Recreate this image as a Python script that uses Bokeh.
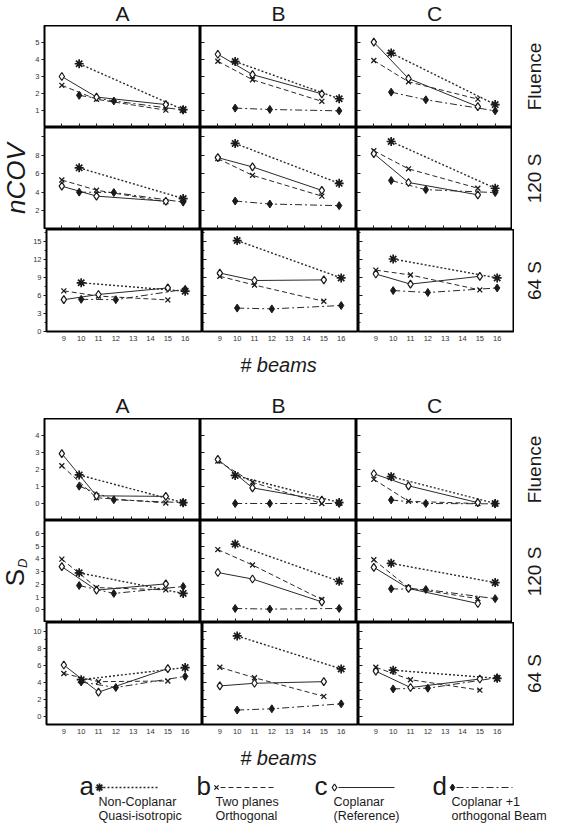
import math
from bokeh.plotting import figure
from bokeh.layouts import column, row
from bokeh.models import Range1d, FixedTicker, LinearAxis
from bokeh.embed import file_html
from bokeh.resources import INLINE
from bokeh.core.properties import value

# ---------------- data ----------------
BEAM_TICKS = [9, 10, 11, 12, 13, 14, 15, 16]
X_A = [10, 16]        # a: Non-Coplanar Quasi-isotropic
X_B = [9, 11, 15]     # b: Two planes Orthogonal
X_C = [9, 11, 15]     # c: Coplanar (Reference)
X_D = [10, 12, 16]    # d: Coplanar +1 orthogonal Beam

COLUMNS = ["A", "B", "C"]
ROWS = ["Fluence", "120 S", "64 S"]

# nCOV
NCOV_FLUENCE_A = {"a": [3.75, 1.05], "b": [2.48, 1.66, 1.02], "c": [3.00, 1.79, 1.35], "d": [1.89, 1.56, 1.03]}
NCOV_FLUENCE_B = {"a": [3.88, 1.69], "b": [3.90, 2.81, 1.54], "c": [4.31, 3.11, 1.98], "d": [1.14, 1.06, 0.98]}
NCOV_FLUENCE_C = {"a": [4.38, 1.35], "b": [3.94, 2.69, 1.67], "c": [5.02, 2.88, 1.23], "d": [2.08, 1.63, 0.98]}
NCOV_120S_A = {"a": [6.65, 3.34], "b": [5.34, 4.24, 2.99], "c": [4.67, 3.60, 3.05], "d": [4.03, 3.99, 2.95]}
NCOV_120S_B = {"a": [9.28, 4.98], "b": [7.65, 5.84, 3.60], "c": [7.75, 6.75, 4.22], "d": [3.07, 2.75, 2.57]}
NCOV_120S_C = {"a": [9.49, 4.45], "b": [8.50, 6.54, 4.45], "c": [8.18, 5.07, 3.74], "d": [5.28, 4.30, 3.98]}
NCOV_64S_A = {"a": [8.12, 6.72], "b": [6.77, 5.90, 5.26], "c": [5.30, 6.17, 7.26], "d": [5.36, 5.30, 7.04]}
NCOV_64S_B = {"a": [15.16, 8.93], "b": [9.20, 7.74, 5.04], "c": [9.74, 8.50, 8.60], "d": [3.90, 3.77, 4.33]}
NCOV_64S_C = {"a": [12.08, 8.93], "b": [10.23, 9.42, 6.93], "c": [9.58, 7.90, 9.20], "d": [6.82, 6.50, 7.26]}

# S_D
SD_FLUENCE_A = {"a": [1.68, 0.05], "b": [2.22, 0.34, 0.03], "c": [2.93, 0.45, 0.42], "d": [1.02, 0.22, 0.05]}
SD_FLUENCE_B = {"a": [1.65, 0.06], "b": [2.50, 1.25, 0.00], "c": [2.60, 0.92, 0.20], "d": [0.00, 0.00, 0.00]}
SD_FLUENCE_C = {"a": [1.58, 0.00], "b": [1.42, 0.13, 0.00], "c": [1.75, 1.04, 0.05], "d": [0.21, 0.00, -0.02]}
SD_120S_A = {"a": [2.90, 1.28], "b": [3.97, 1.74, 1.56], "c": [3.38, 1.54, 2.03], "d": [1.90, 1.28, 1.82]}
SD_120S_B = {"a": [5.15, 2.23], "b": [4.72, 3.51, 0.80], "c": [2.92, 2.41, 0.62], "d": [0.10, 0.05, 0.10]}
SD_120S_C = {"a": [3.64, 2.13], "b": [3.92, 1.72, 0.87], "c": [3.33, 1.67, 0.49], "d": [1.64, 1.59, 0.87]}
SD_64S_A = {"a": [4.27, 5.70], "b": [5.00, 4.04, 4.12], "c": [6.00, 2.81, 5.58], "d": [4.00, 3.35, 4.66]}
SD_64S_B = {"a": [9.42, 5.54], "b": [5.73, 4.50, 2.31], "c": [3.54, 3.85, 4.04], "d": [0.70, 0.85, 1.43]}
SD_64S_C = {"a": [5.39, 4.43], "b": [5.73, 4.27, 3.04], "c": [5.27, 3.35, 4.35], "d": [3.19, 3.27, 4.50]}

NCOV_Y_RANGES = [(0, 6), (0, 11), (0, 17)]
NCOV_Y_TICKS = [[1, 2, 3, 4, 5], [2, 4, 6, 8, 10], [0, 3, 6, 9, 12, 15]]
NCOV_Y_MINOR = [[], [], [1.5, 4.5, 7.5, 10.5, 13.5, 16.5]]
NCOV_Y_HIDDEN = [{}, {10: ""}, {}]

SD_Y_RANGES = [(-1, 5), (-1, 7), (-1, 11)]
SD_Y_TICKS = [[0, 1, 2, 3, 4], [0, 1, 2, 3, 4, 5, 6], [0, 2, 4, 6, 8, 10]]
SD_Y_MINOR = [[], [], [1, 3, 5, 7, 9]]
SD_Y_HIDDEN = [{}, {}, {}]

LEGEND_LETTERS = ["a", "b", "c", "d"]
LEGEND_LINE1 = ["Non-Coplanar", "Two planes", "Coplanar", "Coplanar +1"]
LEGEND_LINE2 = ["Quasi-isotropic", "Orthogonal", "(Reference)", "orthogonal Beam"]

# ---------------- style / layout ----------------
FONT = "Liberation Sans"
INK = "#1a1a1a"
LINE_INK = "#2a2a2a"
TICK_TXT = "#333333"
FW, FH = 156, 102          # frame of one panel
LSTRIP, ABORDER, RSTRIP = 30, 14, 39
XLAB = 16                  # room for x tick labels under the last row
TOTAL_W = LSTRIP + ABORDER + 3 * FW + RSTRIP   # 551
BLOCK_H = 3 * FH + XLAB
HEAD_H, MID_H, FOOT_H = 25, 71, 83
X_RANGE = (8.0, 17.0)

XS = {"a": X_A, "b": X_B, "c": X_C, "d": X_D}
LINE_STYLE = {
    "a": dict(line_dash="2 2", line_width=1.4),
    "b": dict(line_dash="5 3", line_width=1.0),
    "c": dict(line_dash="solid", line_width=1.0),
    "d": dict(line_dash="7 3 2 3", line_width=1.0),
}
MARK_STYLE = {
    "a": dict(marker="asterisk", size=9, line_width=1.7, line_color=INK, fill_color=INK),
    "b": dict(marker="x", size=7, line_width=1.3, line_color=INK, fill_color=None),
    "c": dict(marker="diamond", size=8, line_width=1.2, line_color=INK, fill_color="white"),
    "d": dict(marker="diamond", size=8, line_width=1.0, line_color=INK, fill_color=INK),
}


def strip(w, h):
    s = figure(width=w, height=h, x_range=Range1d(0, w), y_range=Range1d(0, h),
               x_axis_type=None, y_axis_type=None, output_backend="svg",
               toolbar_location=None, title=None,
               min_border_left=0, min_border_right=0, min_border_top=0, min_border_bottom=0)
    s.outline_line_color = None
    s.background_fill_color = "white"
    s.border_fill_color = "white"
    return s


def panel(ci, ri, data, yr, yticks, yminor, yhidden):
    last = ri == 2
    p = figure(frame_width=FW, frame_height=FH,
               x_range=Range1d(*X_RANGE), y_range=Range1d(*yr),
               x_axis_type=None, y_axis_type=None, title=None,
               output_backend="svg", toolbar_location=None,
               min_border_left=ABORDER if ci == 0 else 0, min_border_right=0,
               min_border_top=0, min_border_bottom=XLAB if last else 0)
    p.outline_line_color = "black"
    p.outline_line_width = 2
    p.background_fill_color = "white"
    p.border_fill_color = "white"

    # y axis
    if ci == 0:
        yax = LinearAxis(ticker=FixedTicker(ticks=yticks, minor_ticks=yminor))
        yax.major_tick_out = 3
        yax.major_tick_in = 0
        yax.minor_tick_out = 2
        yax.minor_tick_in = 0
        yax.major_label_text_font = FONT
        yax.major_label_text_font_size = "7.5px"
        yax.major_label_text_color = TICK_TXT
        yax.major_label_standoff = 2
        if yhidden:
            yax.major_label_overrides = yhidden
    else:
        yax = LinearAxis(ticker=FixedTicker(ticks=yticks, minor_ticks=yminor),
                         fixed_location=X_RANGE[0])
        yax.major_tick_out = 0
        yax.major_tick_in = 4
        yax.minor_tick_out = 0
        yax.minor_tick_in = 2
        yax.major_label_text_color = None
    yax.axis_line_color = None
    yax.major_tick_line_color = INK
    yax.minor_tick_line_color = INK
    p.add_layout(yax, "left")

    # x axis
    if last:
        xax = LinearAxis(ticker=FixedTicker(ticks=BEAM_TICKS))
        xax.major_tick_in = 0
        xax.major_tick_out = 0
        xax.major_label_text_font = FONT
        xax.major_label_text_font_size = "7.5px"
        xax.major_label_text_color = TICK_TXT
        xax.major_label_standoff = 4
    else:
        xax = LinearAxis(ticker=FixedTicker(ticks=BEAM_TICKS), fixed_location=yr[0])
        xax.major_tick_in = 4
        xax.major_tick_out = 0
        xax.major_label_text_color = None
    xax.axis_line_color = None
    xax.major_tick_line_color = INK
    xax.minor_tick_line_color = None
    p.add_layout(xax, "below")

    for k in ["c", "b", "d", "a"]:
        p.line(XS[k], data[k], line_color=LINE_INK, **LINE_STYLE[k])
    for k in ["b", "d", "a", "c"]:
        p.scatter(XS[k], data[k], **MARK_STYLE[k])
    return p


def block(datas, yranges, yticks, yminor, yhidden, ylabel_fn):
    rows = []
    for ri in range(3):
        rows.append(row(*[panel(ci, ri, datas[ri][ci], yranges[ri], yticks[ri], yminor[ri], yhidden[ri])
                          for ci in range(3)]))
    left = strip(LSTRIP, BLOCK_H)
    ylabel_fn(left)
    right = strip(RSTRIP, BLOCK_H)
    centers = [BLOCK_H - (FH * i + FH / 2) for i in range(3)]
    right.text(x=[20] * 3, y=centers, text=ROWS, angle=math.pi / 2,
               text_font=value(FONT), text_font_size="19px", text_color=INK,
               text_align="center", text_baseline="middle")
    return row(left, column(*rows), right)


ROW2_MID = BLOCK_H - (FH + FH / 2)


def ncov_label(s):
    s.text(x=[15], y=[ROW2_MID], text=["nCOV"], angle=math.pi / 2,
           text_font=value(FONT), text_font_size="26px", text_font_style="italic",
           text_color=INK, text_align="center", text_baseline="middle")


def sd_label(s):
    s.text(x=[14], y=[ROW2_MID - 6], text=["S"], angle=math.pi / 2,
           text_font=value(FONT), text_font_size="26px",
           text_color=INK, text_align="center", text_baseline="middle")
    s.text(x=[22], y=[ROW2_MID + 3.5], text=["D"], angle=math.pi / 2,
           text_font=value(FONT), text_font_size="13px", text_font_style="italic",
           text_color=INK, text_align="left", text_baseline="middle")


HEAD_X = [LSTRIP + ABORDER + FW * (i + 0.5) for i in range(3)]


def headers(s, h, y_down):
    s.text(x=HEAD_X, y=[h - y_down] * 3, text=COLUMNS, text_font=value(FONT),
           text_font_size="21px", text_color=INK, text_align="center", text_baseline="middle")


def beams_title(s, h, y_down):
    s.text(x=[HEAD_X[1]], y=[h - y_down], text=["# beams"], text_font=value(FONT),
           text_font_size="20px", text_font_style="italic", text_color=INK,
           text_align="center", text_baseline="middle")


NCOV = [[NCOV_FLUENCE_A, NCOV_FLUENCE_B, NCOV_FLUENCE_C],
        [NCOV_120S_A, NCOV_120S_B, NCOV_120S_C],
        [NCOV_64S_A, NCOV_64S_B, NCOV_64S_C]]
SD = [[SD_FLUENCE_A, SD_FLUENCE_B, SD_FLUENCE_C],
      [SD_120S_A, SD_120S_B, SD_120S_C],
      [SD_64S_A, SD_64S_B, SD_64S_C]]

head = strip(TOTAL_W, HEAD_H)
headers(head, HEAD_H, 13)

top_block = block(NCOV, NCOV_Y_RANGES, NCOV_Y_TICKS, NCOV_Y_MINOR, NCOV_Y_HIDDEN, ncov_label)

mid = strip(TOTAL_W, MID_H)
beams_title(mid, MID_H, 17)
headers(mid, MID_H, 58)

bot_block = block(SD, SD_Y_RANGES, SD_Y_TICKS, SD_Y_MINOR, SD_Y_HIDDEN, sd_label)

# ---------------- footer with legend ----------------
foot = strip(TOTAL_W, FOOT_H)
beams_title(foot, FOOT_H, 17)
LEG_X0 = [79, 196, 314, 432]
MARK_ROW = FOOT_H - 47
foot.text(x=LEG_X0, y=[MARK_ROW + 2] * 4, text=LEGEND_LETTERS, text_font=value(FONT),
          text_font_size="26px", text_color=INK, text_baseline="middle", text_align="left")
for i, k in enumerate(["a", "b", "c", "d"]):
    foot.segment(x0=[LEG_X0[i] + 24], y0=[MARK_ROW], x1=[LEG_X0[i] + 80], y1=[MARK_ROW],
                 line_color=LINE_INK, **LINE_STYLE[k])
    foot.scatter([LEG_X0[i] + 20], [MARK_ROW], **{**MARK_STYLE[k], "size": MARK_STYLE[k]["size"] - 1})
foot.text(x=[x + 19 for x in LEG_X0], y=[MARK_ROW - 14] * 4, text=LEGEND_LINE1, text_font=value(FONT),
          text_font_size="12.5px", text_color=INK, text_baseline="middle", text_align="left")
foot.text(x=[x + 19 for x in LEG_X0], y=[MARK_ROW - 28] * 4, text=LEGEND_LINE2, text_font=value(FONT),
          text_font_size="12.5px", text_color=INK, text_baseline="middle", text_align="left")

layout = column(head, top_block, mid, bot_block, foot)

open("out.html", "w").write(file_html(layout, INLINE))
